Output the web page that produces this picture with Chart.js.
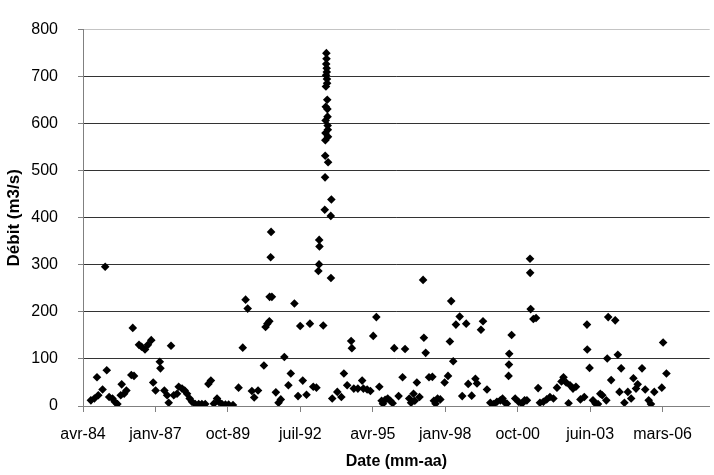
<!DOCTYPE html>
<html>
<head>
<meta charset="utf-8">
<script src="https://cdn.jsdelivr.net/npm/chart.js"></script>
<style>
  html, body { margin: 0; padding: 0; background: #fff; }
  #wrap { width: 714px; height: 475px; }
</style>
</head>
<body>
<div id="wrap"><canvas id="chart" width="714" height="475"></canvas></div>
<script>
// sampling dates (yyyy-mm-dd) and discharge in m3/s
const dates = [
  '1984-08-15','1984-10-02','1984-11-07','1984-11-25','1985-01-23','1985-02-28','1985-03-22','1985-04-24',
  '1985-06-09','1985-07-10','1985-08-16','1985-10-01','1985-10-14','1985-11-17','1985-12-18','1986-02-24',
  '1986-03-16','1986-04-02','1986-06-10','1986-07-15','1986-09-01','1986-10-11','1986-11-26','1986-12-23',
  '1987-01-25','1987-03-24','1987-04-02','1987-05-26','1987-07-03','1987-07-25','1987-08-26','1987-10-03',
  '1987-11-17','1987-12-10','1988-01-25','1988-03-02','1988-04-03','1988-05-09','1988-06-10','1988-07-25',
  '1988-09-11','1988-10-25','1988-12-10',
  '1989-01-23','1989-02-26','1989-04-08','1989-05-22','1989-06-15','1989-07-29','1989-09-15','1989-10-29',
  '1989-12-28','1990-03-15','1990-05-12','1990-06-20','1990-07-19','1990-09-15','1990-10-17','1990-12-09',
  '1991-02-28','1991-03-23','1991-04-17','1991-05-14','1991-05-18','1991-06-01','1991-06-07','1991-06-18',
  '1991-08-12','1991-09-18','1991-10-19','1991-12-07','1992-02-01','1992-03-05','1992-04-24','1992-06-13',
  '1992-07-13','1992-08-17','1992-10-08','1992-11-24','1993-01-09','1993-02-22','1993-03-21','1993-03-30',
  '1993-04-01','1993-04-05','1993-05-27','1993-06-17',
  '1993-06-21','1993-06-23','1993-06-25','1993-06-27','1993-06-29','1993-07-01','1993-07-03','1993-07-05',
  '1993-07-07','1993-07-09','1993-07-11','1993-07-13','1993-07-15','1993-07-17','1993-07-19','1993-07-21',
  '1993-07-23','1993-07-25','1993-07-27','1993-07-29','1993-07-31','1993-08-02',
  '1993-09-08','1993-09-10','1993-09-16',
  '1993-09-28','1993-12-07','1994-02-01','1994-03-08','1994-04-22','1994-06-16','1994-06-26','1994-07-23',
  '1994-09-17','1994-11-15','1994-12-02','1995-01-23','1995-03-09','1995-04-17','1995-05-30','1995-07-10',
  '1995-08-11','1995-08-29','1995-09-28','1995-11-03','1995-12-09','1996-01-10','1996-02-01','1996-04-01',
  '1996-05-26','1996-06-29','1996-08-26','1996-09-20','1996-10-24','1996-11-11','1996-12-09','1997-01-15',
  '1997-03-05','1997-03-16','1997-04-10','1997-05-26','1997-07-11','1997-08-01','1997-08-24','1997-09-21',
  '1997-10-29','1997-12-27','1998-02-12','1998-03-10','1998-03-28','1998-04-25','1998-06-01',
  '1998-07-23','1998-08-27','1998-10-21','1998-11-18','1999-01-05','1999-02-25','1999-03-19','1999-05-13',
  '1999-06-10','1999-08-04','1999-09-19','1999-11-05','1999-12-19','2000-02-04','2000-03-06','2000-04-08',
  '2000-05-05','2000-05-28','2000-06-02','2000-06-06','2000-07-09','2000-08-27','2000-10-13','2000-11-28',
  '2001-01-04','2001-02-05','2001-03-20','2001-03-22','2001-03-29','2001-05-05','2001-06-11','2001-07-10',
  '2001-08-04','2001-09-20','2001-11-05','2001-12-20','2002-02-06','2002-03-27','2002-05-28','2002-06-25',
  '2002-08-01','2002-09-03','2002-09-23','2002-11-03','2002-12-14','2003-02-14','2003-04-08',
  '2003-05-15','2003-05-19','2003-06-20','2003-08-06','2003-09-11','2003-10-14','2003-11-15','2003-12-12',
  '2004-02-06','2004-02-19','2004-03-03','2004-04-13','2004-06-08','2004-07-14','2004-08-06','2004-08-29',
  '2004-10-13','2004-11-29','2005-01-14','2005-02-14','2005-03-22','2005-04-14','2005-06-13','2005-07-27',
  '2005-09-13','2005-10-14','2005-11-29','2006-03-13','2006-03-31','2006-05-16'
];

const debit = [
  12, 16, 61, 23, 35, 296, 76, 19,
  16, 9, 4, 23, 46, 26, 33, 66,
  166, 64, 130, 126, 120, 130, 140, 50,
  33, 94, 80, 33, 23, 7, 128, 23,
  26, 41, 37, 33, 26, 16, 9, 4,
  4, 4, 4,
  47, 54, 5, 16, 9, 4, 3, 3,
  2, 39, 124, 226, 207, 32, 18, 33,
  86, 168, 175, 180, 232, 316, 370, 232,
  29, 7, 14, 104, 44, 69, 218, 21,
  170, 54, 24, 175, 41, 39, 287, 301,
  353, 339, 171, 417,
  486, 532, 565, 580, 607, 636, 679, 703,
  727, 750, 738, 718, 710, 695, 686, 651,
  631, 615, 596, 587, 572, 518,
  404, 272, 439,
  16, 30, 19, 69, 44, 138, 123, 37,
  37, 54, 37, 35, 32, 149, 189, 41,
  11, 5, 13, 16, 11, 6, 123, 21,
  61, 121, 16, 7, 26, 11, 50, 19,
  268, 145, 113, 61, 62, 11, 5, 16,
  14, 50, 64, 137, 223, 95, 173,
  190, 21, 175, 47, 22, 58, 48, 162,
  180, 35, 7, 4, 9, 12, 16, 7,
  5, 64, 88, 111, 151, 16, 9, 5,
  12, 12, 313, 283, 206, 185, 187, 38,
  7, 9, 14, 19, 16, 39, 52, 61,
  50, 6, 44, 37, 41, 14, 19,
  173, 120, 81, 12, 5, 4, 26, 23,
  12, 101, 189, 55, 182, 109, 30, 80,
  7, 30, 16, 59, 37, 46, 80, 35,
  12, 4, 30, 39, 135, 69
];

// date axis: starts 1984-04-28, one label every 1000 days
const axisStart = '1984-04-28';
const tickStepDays = 1000;
const axisSpanDays = 8650;
const tickLabels = ['avr-84', 'janv-87', 'oct-89', 'juil-92', 'avr-95', 'janv-98', 'oct-00', 'juin-03', 'mars-06'];

const yMin = 0;
const yMax = 800;
const yStep = 100;

const DAY = 86400000;
const t0 = Date.parse(axisStart);
const points = dates.map((d, i) => ({ x: (Date.parse(d) - t0) / DAY, y: debit[i] }));

const family = "'Liberation Sans', Arial, sans-serif";

new Chart(document.getElementById('chart'), {
  type: 'scatter',
  data: {
    datasets: [{
      data: points,
      pointStyle: 'rectRot',
      pointRadius: 4.3,
      pointHoverRadius: 4.3,
      pointBackgroundColor: '#000',
      pointBorderWidth: 0
    }]
  },
  options: {
    responsive: false,
    animation: false,
    devicePixelRatio: 1,
    layout: { padding: { top: 20, right: 0, left: 0, bottom: 0 } },
    plugins: { legend: { display: false }, tooltip: { enabled: false } },
    scales: {
      x: {
        type: 'linear',
        min: 0,
        max: axisSpanDays,
        afterBuildTicks: s => { s.ticks = tickLabels.map((_, i) => ({ value: i * tickStepDays })); },
        afterFit: s => { s.height = 69; },
        ticks: {
          autoSkip: false,
          maxRotation: 0,
          padding: 13,
          color: '#000',
          font: { family, size: 16 },
          callback: (v, i) => tickLabels[i]
        },
        grid: { drawOnChartArea: false, tickLength: 6, color: '#808080' },
        border: { color: '#808080', width: 1 },
        title: {
          display: true,
          text: 'Date (mm-aa)',
          color: '#000',
          font: { family, size: 16, weight: 'bold' },
          padding: { top: 0, bottom: 4 }
        }
      },
      y: {
        min: yMin,
        max: yMax,
        afterFit: s => { s.width = 83; },
        ticks: {
          stepSize: yStep,
          padding: 20,
          color: '#000',
          font: { family, size: 16 }
        },
        grid: {
          color: c => (c.tick && c.tick.value === yMax) ? '#c4c4c4' : '#333',
          tickColor: '#808080',
          tickLength: 5
        },
        border: { color: '#808080', width: 1 },
        title: {
          display: true,
          text: 'Débit (m3/s)',
          color: '#000',
          font: { family, size: 17, weight: 'bold' },
          padding: { top: 4, bottom: 0 }
        }
      }
    }
  }
});
</script>
</body>
</html>
